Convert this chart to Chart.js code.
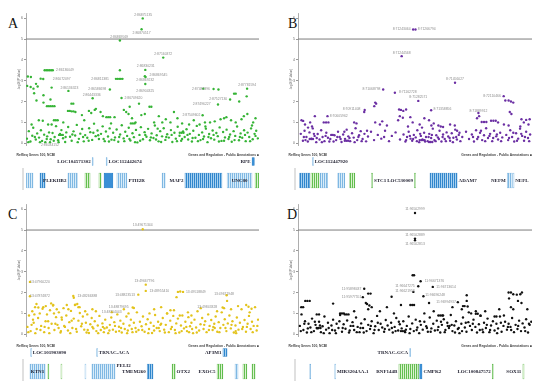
<!DOCTYPE html>
<html><head><meta charset="utf-8">
<script src="https://cdn.jsdelivr.net/npm/chart.js@4.4.1/dist/chart.umd.min.js"></script>
<style>
html,body{margin:0;padding:0;background:#fff;}
body{width:550px;height:389px;position:relative;overflow:hidden;}
canvas{position:absolute;}
.lt{position:absolute;font-family:"Liberation Serif","Times New Roman",serif;font-size:14px;line-height:1;color:#111;}
</style></head><body>
<div class="lt" style="left:8px;top:17px">A</div>
<div class="lt" style="left:288px;top:17px">B</div>
<div class="lt" style="left:8px;top:208px">C</div>
<div class="lt" style="left:287px;top:208px">D</div>
<canvas id="sA" width="249" height="150" style="left:16px;top:0px"></canvas>
<canvas id="gA" width="249" height="44" style="left:16px;top:148px"></canvas>
<canvas id="sB" width="250" height="150" style="left:288px;top:0px"></canvas>
<canvas id="gB" width="250" height="44" style="left:288px;top:148px"></canvas>
<canvas id="sC" width="249" height="150" style="left:16px;top:191px"></canvas>
<canvas id="gC" width="249" height="44" style="left:16px;top:339px"></canvas>
<canvas id="sD" width="250" height="150" style="left:288px;top:191px"></canvas>
<canvas id="gD" width="250" height="44" style="left:288px;top:339px"></canvas>
<script>
// ---------- DATA ----------
const yTicks = [0,1,2,3,4,5,6];
const threshold = 5;
const yTitle = "-log10(P-Value)";
const headerLeft = "RefSeq Genes 100, NCBI";
const headerRight = "Genes and Regulation - Public Annotations \u25A0";

// Panel A (x = relative position 0-100, y = -log10 p)
const peakA = [[50.1,5.99],[49.6,5.47],[40.3,4.93],[58.9,4.11],[51.2,3.52],[51.0,3.22],[51.3,3.18],[51.2,2.84],
[8.0,3.5],[8.7,3.5],[9.4,3.5],[10.1,3.5],[10.8,3.5],[11.5,3.5],[6.3,3.1],[7.4,3.08],[2.1,3.18],[0.8,3.2],
[11,2.67],[18.2,2.51],[36,2.58],[28.6,2.16],[38.6,3.09],[39.3,3.09],[40,3.09],[40.7,3.09],[41.4,3.09],[40.3,3.5],[41,2.17],
[76.1,2.62],[80.5,2.6],[82.6,2.58],[89.3,2.38],[90,2.38],[94.9,2.62],[94.7,2.25],[87.6,2.1],[82.4,1.86],[91.5,2.0],[75.8,1.34],
[0.5,2.75],[2,2.7],[3.2,2.62],[4.3,2.85],[5,2.72],[3.5,2.4],[4.5,2.05],[7.5,2.3],[10.5,2.1],
[7.5,1.95],[9,1.78],[9.8,1.78],[10.6,1.78],[11.4,1.78],[12.2,1.78],[19.5,1.9],[20.3,1.9],[18,1.55],[18.8,1.55],[19.6,1.53],[20.4,1.53],[21.2,1.5],[12,1.1],[12.8,1.1],[13.6,1.1],[5.5,1.1],[7.2,1.08],[9.5,0.9],[11,0.9],
[24,1.35],[25,1.1],[27,1.55],[28,1.45],[29.5,1.6],[30,1.65],[32,1.5],[33,1.3],[34.5,1.25],[35.3,1.25],[36.1,1.25],[38,1.25],[42,1.6],[43,1.5],[44,1.4],[45.5,1.2],[47,1.0],[44.5,1.75],[48.5,1.9],[49.5,1.35],[51,1.4],[53,1.75],[53.8,1.75],[55,1.0],[57,1.3],[58.5,1.0],[60,1.15],[62,1.0],[63.5,1.5],[65,1.2],[67,0.95],[70,0.9],[72,1.1],[74.5,0.9],[77,0.8],[79,1.0],[81,1.05],[83.5,1.15],[85,1.2],[86,1.25],[88,1.1],[90,1.0],[92.5,1.15],[93.5,1.3],[95,1.4],[97.5,1.0],[98.5,1.2],[10.3,0.05]];
const cloudA = [[0.4,0.22],[1.2,0.58],[1.9,0.08],[2.7,0.36],[3.1,0.74],[4.2,0.18],[4.8,0.47],[5.6,0.27],[6.4,0.62],[6.9,0.11],[7.8,0.41],[8.3,0.05],[9.1,0.33],[9.9,0.52],[10.6,0.19],[11.4,0.49],[12.3,0.3],[12.9,0.82],[13.8,0.14],[14.6,0.44],[15.2,0.63],[15.9,0.24],[16.8,0.06],[17.3,0.52],[18.1,0.78],[18.9,0.31],[19.6,0.12],[20.4,0.57],[21.1,0.37],[21.8,0.88],[22.7,0.21],[23.3,0.46],[24.1,0.68],[24.8,0.09],[25.4,0.39],[26.3,0.26],[27.1,0.72],[27.6,0.53],[28.4,0.16],[29.2,0.94],[29.9,0.34],[30.7,0.61],[31.3,0.2],[32.2,0.45],[32.9,0.81],[33.8,0.1],[34.3,0.56],[35.2,0.32],[35.9,0.71],[36.7,0.17],[37.4,0.5],[38.2,0.28],[38.9,0.66],[39.6,0.07],[40.4,0.42],[41.1,0.86],[41.9,0.23],[42.6,0.55],[43.4,0.35],[44.1,0.74],[44.8,0.13],[45.7,0.48],[46.3,0.29],[47.2,0.64],[47.8,0.04],[48.7,0.4],[49.3,0.77],[50.2,0.19],[50.9,0.53],[51.7,0.31],[52.4,0.69],[53.2,0.14],[53.9,0.47],[54.7,0.25],[55.3,0.85],[56.1,0.38],[56.9,0.09],[57.6,0.58],[58.4,0.33],[59.1,0.72],[59.8,0.16],[60.6,0.43],[61.3,0.27],[62.2,0.63],[62.8,0.06],[63.7,0.5],[64.3,0.22],[65.1,0.79],[65.9,0.36],[66.6,0.12],[67.4,0.56],[68.1,0.3],[68.9,0.67],[69.6,0.18],[70.3,0.45],[71.2,0.08],[71.8,0.6],[72.7,0.26],[73.3,0.83],[74.2,0.4],[74.9,0.15],[75.6,0.52],[76.4,0.32],[77.2,0.7],[77.9,0.05],[78.6,0.44],[79.4,0.24],[80.1,0.61],[80.8,0.17],[81.7,0.49],[82.3,0.34],[83.1,0.76],[83.9,0.11],[84.6,0.54],[85.4,0.28],[86.1,0.65],[86.9,0.2],[87.6,0.42],[88.3,0.07],[89.1,0.58],[89.8,0.35],[90.6,0.8],[91.4,0.14],[92.1,0.47],[92.8,0.26],[93.6,0.62],[94.3,0.1],[95.1,0.51],[95.8,0.3],[96.6,0.71],[97.3,0.19],[98.1,0.45],[98.8,0.6],[99.5,0.23],[14.2,0.4],[15,0.4],[15.8,0.4],[45,0.95],[45.8,0.95],[46.6,0.95],[66,0.5],[66.8,0.5],[67.6,0.5],
[1,0.05],[3.8,0.3],[6,0.05],[8.9,0.2],[11.9,0.12],[14,0.05],[17,0.3],[19.9,0.42],[22.2,0.05],[24.5,0.3],[26.9,0.12],[28.9,0.5],[31,0.38],[33.3,0.2],[35.6,0.08],[37.9,0.15],[40,0.3],[42.2,0.1],[44.4,0.2],[46.8,0.05],[49,0.12],[51.2,0.4],[53.6,0.28],[55.8,0.18],[58,0.06],[60.2,0.3],[62.5,0.4],[64.8,0.1],[67,0.2],[69.3,0.4],[71.5,0.25],[73.8,0.1],[76,0.2],[78.3,0.3],[80.5,0.4],[82.8,0.08],[85,0.12],[87.2,0.3],[89.5,0.15],[91.8,0.3],[94,0.4],[96.2,0.1],[98.5,0.35],[2.4,0.9],[16,1.0],[36.5,0.95],[56.5,0.7],[76.8,1.0],[97,0.85]];
const labelsA = [["2:86875135",50.3,6.14],["2:86870517",49.6,5.31],["2:86869569",40.0,5.1],["2:87160372",58.9,4.3],["2:86830231",51.4,3.71],["2:86869545",56.8,3.28],["2:86869232",51.2,3.02],["2:86904325",51.2,2.5],["2:86136049",16.7,3.5],["2:86072097",15.3,3.07],["2:86136323",18.6,2.67],["2:86586698",30.6,2.58],["2:86443336",28.2,2.32],["2:86811381",31.8,3.09],["2:86709620",46.1,2.17],["2:87482396",75.1,2.62],["2:87781594",94.9,2.8],["2:87527130",82.5,2.1],["2:87496227",75.4,1.86],["2:87509602",71.0,1.36],["2:86034152",10.3,-0.1]];
// genes: [name, start, end, row, kind, labelSide]
const genesA = [["LOC104571302",28.4,28.8,"top","l","L"],["LOC112442674",34.4,34.8,"top","l","R"],["RPE",97,98,"top","B","L"],
["",0.2,3.0,"main","l",""],["",6,8.2,"main","b",""],["PLEKHB2",18,22,"main","l","L"],["",25.3,27.5,"main","g",""],["",31.3,32.2,"main","g",""],["",33.5,37.3,"main","B",""],["PTH2R",39,43.3,"main","l","R"],["",58.4,59.7,"main","l",""],["MAP2",68.2,84.1,"main","b","L"],["UNC80",86.3,97,"main","l","C"],["",98.3,100,"main","g",""]];

// Panel B
const peakB = [[49.2,5.46],[50.2,5.46],[44.3,4.18],[67.1,2.9],[36.4,2.58],[41.4,2.42],[51.4,2.03],[33,1.95],[33.4,1.9],[32.6,1.78],[87.9,2.26],[88.6,2.05],[90,2.05],[91,2.0],[92,1.95],[28.5,1.6],[28.3,1.5],[56.9,1.58],[77.1,1.45],[77.4,1.3],[12.6,1.3],[43.2,1.62],[44,1.6],[45,1.55],[46.2,1.62],[43.5,1.3],[44.8,1.22],[42.8,1.1],[7.2,1.3],[90.5,1.5],[91.2,1.4],[1.5,1.1],[2.2,1.07],[3,0.9],[4.3,0.75],[5.2,1.0],[6,0.8],[11,1.0],[12,1.0],[13,1.0],[24,1.0],[25,0.95],[33,1.0],[35,0.9],[36,1.05],[38,0.85],[48,1.25],[49,1.0],[52,0.9],[54,1.2],[56,1.1],[58,0.95],[60,0.85],[61,0.8],[62,0.78],[65,0.9],[67,0.85],[68,0.6],[76.5,1.2],[78.5,1.02],[79.5,1.02],[80.5,1.02],[82.5,1.08],[83.5,1.08],[84.5,1.08],[85.5,1.0],[88,0.9],[90,0.85],[95.5,1.15],[96.5,1.0],[97.5,1.12],[98.5,0.9],[99,1.15],[95,0.8]];
const cloudB = [[1.2,0.45],[2.1,0.12],[2.8,0.6],[3.6,0.3],[4.2,0.08],[4.9,0.52],[5.7,0.22],[6.3,0.71],[7.1,0.35],[7.8,0.05],[8.4,0.44],[9.2,0.18],[9.9,0.62],[10.5,0.3],[11.3,0.1],[12.1,0.5],[12.8,0.26],[13.4,0.08],[14.2,0.4],[14.9,0.4],[15.6,0.38],[16.3,0.15],[17.1,0.55],[17.8,0.3],[18.6,0.06],[19.3,0.42],[20.1,0.21],[20.8,0.65],[21.5,0.33],[22.3,0.1],[23.1,0.48],[23.8,0.27],[24.6,0.72],[25.3,0.15],[26.1,0.38],[26.8,0.58],[27.6,0.2],[28.4,0.45],[29.1,0.09],[29.9,0.32],[31.2,0.55],[32.5,0.15],[34.1,0.4],[35.6,0.22],[37.2,0.6],[38.9,0.1],[40.1,0.35],[41.7,0.52],[43.6,0.18],[45.1,0.42],[45.9,0.08],[46.6,0.3],[47.3,0.55],[48.1,0.22],[48.8,0.12],[49.5,0.4],[50.3,0.28],[51,0.62],[51.8,0.05],[52.5,0.35],[53.2,0.18],[53.9,0.5],[54.7,0.3],[55.4,0.1],[56.1,0.45],[56.9,0.25],[57.6,0.7],[58.3,0.15],[59.1,0.38],[59.8,0.28],[60.5,0.6],[61.3,0.08],[62,0.42],[62.7,0.2],[63.5,0.52],[64.2,0.32],[65,0.12],[65.7,0.48],[66.4,0.26],[67.2,0.65],[67.9,0.18],[68.7,0.4],[69.4,0.1],[70.2,0.3],[71.8,0.55],[73.1,0.2],[74.3,0.42],[75.2,0.08],[76.1,0.62],[77,0.3],[77.8,0.5],[78.7,0.15],[79.5,0.38],[80.4,0.72],[81.2,0.25],[82.1,0.45],[83,0.1],[83.8,0.6],[84.7,0.33],[85.5,0.18],[86.4,0.5],[87.3,0.28],[89,0.4],[89.8,0.15],[90.7,0.62],[91.5,0.3],[92.4,0.08],[93.2,0.48],[94.1,0.22],[94.9,0.7],[95.8,0.35],[96.6,0.12],[97.5,0.55],[98.3,0.25],[99.2,0.42],[52,0.15],[52.7,0.15],[53.4,0.15],[54.1,0.15],[56,0.06],[56.7,0.06],[57.4,0.06],[5,0.2],[5.7,0.2],[6.4,0.2],[20,0.12],[20.7,0.12],[21.4,0.12],
[2.5,0.3],[3.2,0.15],[6.8,0.45],[8,0.25],[10.2,0.05],[11.8,0.35],[13.8,0.2],[15.2,0.08],[16.8,0.3],[18.2,0.2],[19.8,0.55],[22,0.25],[24.2,0.05],[25.8,0.3],[27.2,0.1],[29.5,0.6],[46.2,0.15],[47.8,0.35],[49.2,0.2],[50.8,0.1],[52.2,0.45],[54.3,0.08],[55.8,0.3],[57.2,0.4],[58.8,0.1],[60.2,0.2],[61.8,0.3],[63.2,0.1],[64.8,0.25],[66.2,0.05],[67.6,0.3],[69,0.5],[74.8,0.3],[76.6,0.2],[78.2,0.6],[80,0.1],[81.8,0.35],[83.4,0.25],[85,0.42],[86.8,0.1],[90.2,0.25],[92,0.5],[93.6,0.12],[95.4,0.45],[97,0.3],[98.8,0.1],[53,0.75],[57,0.85],[47,0.8],[36.8,0.3]];
const labelsB = [["8:71243064",44.3,5.46],["8:71266794",55.0,5.46],["8:71244568",44.3,4.35],["8:71456027",67.1,3.07],["8:71068798",31.4,2.58],["8:71162728",46.9,2.45],["8:71282571",51.4,2.21],["8:72110466",82.9,2.26],["8:70911408",22.9,1.65],["8:71358856",61.7,1.62],["8:71889912",77.1,1.55],["8:70605962",17.4,1.3]];
const genesB = [["LOC112447920",6.2,6.5,"top","l","R"],
["",0.7,5,"main","b",""],["",5.5,9,"main","g",""],["",9.5,12.7,"main","l",""],["",17,20,"main","l",""],["",22.1,24.3,"main","g",""],["STC1",31.4,31.8,"main","g","R"],["LOC530009",49.8,50.2,"main","g","L"],["",56.4,63.7,"main","b",""],["ADAM7",64.1,68,"main","b","R"],["NEFM",89.4,91.6,"main","l","L"],["NEFL",91.9,92.2,"main","l","R"]];

// Panel C
const peakC = [[50.1,5.04],[51.4,2.38],[1.7,2.51],[1.7,1.82],[20.3,1.84],[20.5,1.75],[48.2,1.9],[51.4,2.08],[65.2,2.03],[66.2,2.05],[67.4,2.03],[64.6,1.78],[86.1,1.87],[86.3,1.6],[45.8,1.28],[46.3,1.26],[36.8,1.06],[84.4,1.28],[85,1.25],[94.5,1.4],[95.5,1.32],[96.8,1.22],[60.5,1.0],[63.5,1.15],[66,0.9],[4.5,1.45],[8.5,1.35],[10.8,1.48],[13.2,1.2],[17.5,1.4],[22,1.45],[23,1.3],[28.5,1.2],[30,1.1],[42,1.2],[44,1.0],[55,1.2],[58,1.3],[62,1.15],[69.5,1.05],[75,1.25],[82,1.1],[88,1.2],[91,1.35],[96,1.05],[5.3,1.28],[7.4,1.3],[11.7,1.4],[15.3,0.8],[18.2,1.2],[21,1.4],[22.5,1.3]];
const cloudC = [[0.6,0.35],[1.3,0.9],[2,0.15],[2.7,1.1],[3.3,0.55],[3.9,1.3],[4.6,0.25],[5.2,0.78],[5.9,1.0],[6.5,0.4],[7.1,1.22],[7.8,0.1],[8.4,0.62],[9,0.95],[9.7,0.3],[10.3,1.15],[11,0.5],[11.6,1.38],[12.2,0.2],[12.9,0.82],[13.5,0.45],[14.1,1.05],[14.8,0.08],[15.4,0.7],[16.1,1.25],[16.7,0.35],[17.3,0.9],[18,0.18],[18.6,0.58],[19.3,1.12],[19.9,0.3],[20.5,0.75],[21.2,1.42],[21.8,0.12],[22.5,0.65],[23.1,1.02],[23.7,0.38],[24.4,0.85],[25,0.22],[25.7,0.55],[26.3,0.95],[27,0.06],[27.6,0.48],[28.2,0.78],[28.9,0.28],[29.5,0.62],[30.2,0.15],[30.8,0.42],[31.5,0.88],[32.1,0.2],[32.8,0.52],[33.4,0.1],[34,0.7],[34.7,0.32],[35.3,0.05],[36,0.45],[36.6,0.8],[37.3,0.22],[37.9,0.58],[38.6,0.12],[39.2,0.95],[39.9,0.36],[40.5,0.65],[41.1,0.08],[41.8,0.5],[42.4,0.25],[43.1,0.85],[43.7,0.18],[44.4,0.42],[45,0.7],[45.7,0.1],[46.3,0.55],[47,0.3],[47.6,1.05],[48.3,0.2],[48.9,0.6],[49.6,0.38],[50.2,0.85],[50.9,0.12],[51.5,0.48],[52.2,0.72],[52.8,0.25],[53.5,0.55],[54.1,0.06],[54.8,0.4],[55.4,0.92],[56.1,0.3],[56.7,0.6],[57.4,0.15],[58,0.5],[58.7,0.78],[59.3,0.22],[60,0.45],[60.6,1.0],[61.3,0.1],[61.9,0.65],[62.6,0.35],[63.2,0.88],[63.9,0.2],[64.5,0.52],[65.2,0.75],[65.8,0.08],[66.5,0.42],[67.1,0.9],[67.8,0.28],[68.4,0.6],[69.1,0.15],[69.7,0.82],[70.4,0.38],[71,0.55],[71.7,0.05],[72.3,0.7],[73,0.32],[73.6,1.1],[74.3,0.18],[74.9,0.48],[75.6,0.78],[76.2,0.25],[76.9,0.62],[77.5,0.1],[78.2,0.95],[78.8,0.4],[79.5,0.68],[80.1,0.2],[80.8,0.5],[81.4,0.85],[82.1,0.12],[82.7,0.58],[83.4,0.3],[84,1.05],[84.7,0.45],[85.3,0.72],[86,0.15],[86.6,0.52],[87.3,0.9],[87.9,0.28],[88.6,0.62],[89.2,0.08],[89.9,0.42],[90.5,0.8],[91.2,0.22],[91.8,0.55],[92.5,1.2],[93.1,0.35],[93.8,0.68],[94.4,0.12],[95.1,0.5],[95.7,0.88],[96.4,0.25],[97,0.6],[97.7,0.4],[98.3,1.3],[99,0.18],[99.6,0.7],[3,0.7],[9.5,0.62],[14,0.3],[26.5,0.2],[33,0.35],[40,0.15],[57,0.3],[70,0.1],[81,0.3],[90,0.15],
[1,0.1],[2.4,0.45],[4,0.05],[6.2,0.2],[8,0.35],[10,0.05],[12.6,0.5],[15,0.15],[16.4,0.4],[19,0.05],[21.5,0.25],[24,0.5],[26,0.08],[28.5,0.35],[31,0.05],[33.7,0.28],[35.8,0.18],[38.2,0.4],[40.8,0.3],[43.4,0.05],[45.4,0.25],[47.3,0.12],[49.9,0.2],[52.5,0.05],[55,0.18],[57.7,0.45],[59.6,0.08],[62.2,0.25],[64.2,0.05],[66.8,0.15],[68.8,0.35],[71.3,0.25],[73.3,0.08],[76.5,0.45],[78.5,0.2],[80.4,0.35],[83,0.1],[85.6,0.3],[88.2,0.45],[90.2,0.05],[92.8,0.25],[94.8,0.35],[97.3,0.1],[99.3,0.4],[3.6,0.95],[12,1.0],[19.6,0.65],[25.4,1.1],[53,1.0],[71,0.9]];
const labelsC = [["13:49671344",50.1,5.23],["13:49667796",50.8,2.56],["13:47960220",6.0,2.51],["13:47874872",6.0,1.82],["13:48266388",26.3,1.82],["13:48823513",42.5,1.9],["13:48955410",57.2,2.08],["13:49518849",72.9,2.03],["13:49671948",85.0,1.95],["13:48879695",39.8,1.28],["13:48754043",36.8,1.06],["13:49843328",77.8,1.28]];
const genesC = [["LOC101903090",2,2.3,"top","l","R"],["TRNAC-ACA",30.3,30.6,"top","l","R"],["AP3M1",84.5,86.3,"top","b","L"],
["KTN1",1.7,8.2,"main","l","C"],["",9.4,9.7,"main","g",""],["",15,15.3,"main","g",""],["",25.3,25.6,"main","l",""],["PELI2",28.3,38.2,"main","l","RU"],["TMEM260",52,54.5,"main","b","L"],["OTX2",62.7,64,"main","g","R"],["EXOC5",82,84.5,"main","g","L"],["",89.7,91,"main","l",""],["",93.1,94.8,"main","g",""],["",97,98.3,"main","g",""]];

// Panel D
const peakD = [[50,5.82],[50,4.59],[50,4.51],[49,2.83],[49.6,2.83],[52.4,2.54],[51.4,2.3],[57.6,2.27],[28.3,2.18],[49.3,2.03],[27.7,1.78],[53.6,1.82],[68.3,1.54],[40,1.8],[3.1,1.6],[4,1.6],[5,1.6],[15,1.47],[29,1.5],[30,1.95],[31,1.95],[29.5,1.45],[30.5,1.38],[31.5,1.3],[48,1.4],[48.8,1.4],[49.6,1.4],[72.1,1.87],[72.1,1.6],[90,2.0],[91,2.0],[92,1.92],[93.5,1.9],[95,1.92],[95.7,2.0],[90.2,1.72],[91,1.3],[92,1.2],[94,1.6],[95.5,1.5],[1.4,1.3],[2.2,1.3],[8,0.95],[9,0.95],[24,1.1],[30,1.2],[35,1.1],[38,1.3],[41,1.0],[44,1.4],[54,1.0],[56,1.5],[58,1.1],[62,0.9],[66,1.3],[70,1.2],[72.5,1.33],[74,1.0],[76,1.1],[78,0.9],[80,1.1],[86,1.2],[88,0.9],[98,1.2],[18,1.0],[18.8,1.0],[19.6,1.0],[70.5,1.35],[71.2,1.35],[73,1.05]];
const cloudD = [[0.8,0.4],[1.5,0.95],[2.3,0.2],[3,0.62],[3.8,0.08],[4.5,0.5],[5.3,0.32],[6,0.75],[6.8,0.15],[7.5,0.45],[8.3,0.28],[9,0.6],[9.8,0.1],[10.5,0.38],[11.3,0.85],[12,0.22],[12.8,0.55],[13.5,0.05],[14.3,0.42],[15,0.7],[15.8,0.18],[16.5,0.5],[17.3,0.3],[18,0.92],[18.8,0.12],[19.5,0.48],[20.3,0.26],[21,0.66],[21.8,0.08],[22.5,0.4],[23.3,0.58],[24,0.2],[24.8,0.8],[25.5,0.35],[26.3,0.1],[27,0.52],[27.8,0.3],[28.5,0.72],[29.3,0.15],[30,0.45],[30.8,0.25],[31.5,0.62],[32.3,0.05],[33,0.38],[33.8,0.88],[34.5,0.2],[35.3,0.5],[36,0.32],[36.8,0.12],[37.5,0.68],[38.3,0.42],[39,0.22],[39.8,0.55],[40.5,0.08],[41.3,0.35],[42,0.78],[42.8,0.18],[43.5,0.48],[44.3,0.28],[45,0.62],[45.8,0.1],[46.5,0.4],[47.3,0.85],[48,0.25],[48.8,0.52],[49.5,0.15],[50.3,0.7],[51,0.32],[51.8,0.05],[52.5,0.45],[53.3,0.22],[54,0.6],[54.8,0.38],[55.5,0.12],[56.3,0.8],[57,0.28],[57.8,0.5],[58.5,0.18],[59.3,0.65],[60,0.35],[60.8,0.08],[61.5,0.45],[62.3,0.72],[63,0.2],[63.8,0.55],[64.5,0.3],[65.3,0.92],[66,0.15],[66.8,0.42],[67.5,0.62],[68.3,0.25],[69,0.05],[69.8,0.5],[70.5,0.8],[71.3,0.32],[72,0.12],[72.8,0.58],[73.5,0.4],[74.3,0.2],[75,0.7],[75.8,0.35],[76.5,0.08],[77.3,0.48],[78,0.88],[78.8,0.22],[79.5,0.55],[80.3,0.3],[81,0.75],[81.8,0.1],[82.5,0.42],[83.3,0.62],[84,0.18],[84.8,0.5],[85.5,0.28],[86.3,0.85],[87,0.12],[87.8,0.4],[88.5,0.6],[89.3,0.22],[90,0.5],[90.8,0.35],[91.5,0.78],[92.3,0.1],[93,0.45],[93.8,0.25],[94.5,0.65],[95.3,0.15],[96,0.52],[96.8,0.32],[97.5,0.72],[98.3,0.08],[99,0.45],[99.7,0.6],[20,0.95],[20.8,0.95],[21.6,0.95],[60,0.9],[60.8,0.9],[61.6,0.9],[76,0.98],[76.8,0.98],[8,0.3],[8.8,0.3],[9.6,0.3],[44,0.15],[44.8,0.15],[45.6,0.15],[64,0.4],[64.8,0.4],[84,0.85],[84.8,0.85],
[1.2,0.15],[2.7,0.5],[4.2,0.28],[5.7,0.1],[7.2,0.6],[9.4,0.42],[11,0.05],[13.1,0.3],[14.6,0.2],[16.2,0.05],[17.7,0.62],[19.1,0.3],[22.1,0.18],[23.6,0.4],[25.1,0.1],[26.7,0.3],[28.1,0.08],[31.1,0.4],[32.7,0.2],[34.1,0.55],[37.1,0.25],[40.1,0.3],[41.7,0.15],[43.1,0.6],[46.1,0.22],[47.7,0.05],[50.7,0.2],[52.1,0.62],[55.1,0.3],[56.7,0.12],[59.7,0.2],[61.1,0.6],[62.7,0.1],[65.7,0.45],[67.1,0.08],[68.7,0.3],[70.1,0.15],[71.7,0.55],[74.7,0.5],[77.7,0.2],[79.1,0.1],[80.7,0.45],[82.1,0.2],[85.1,0.05],[86.7,0.55],[89.7,0.35],[91.1,0.2],[94.1,0.4],[97.1,0.15],[98.7,0.5]];
const labelsD = [["11:96502999",50,6.0],["11:96502889",50,4.78],["11:96502813",50,4.32],["11:96671376",58.3,2.54],["11:96647275",45.7,2.3],["11:96713614",63.3,2.27],["11:95898437",22.9,2.18],["11:96621953",45.7,2.06],["11:95977551",22.9,1.76],["11:96696248",58.6,1.86],["11:96994937",63.3,1.54]];
const genesD = [["TRNAC-GCA",47.7,48,"top","l","L"],
["",5,5.4,"main","l",""],["MIR3204AA-1",15.7,16,"main","l","R"],["RNF144B",43.1,50.8,"main","g","L"],["",51.2,51.6,"main","g",""],["CMPK2",52,53,"main","B","R"],["LOC100847572",83,83.3,"main","g","L"],["SOX11",96.1,96.6,"main","g","L"]];

// ---------- STYLE / RENDER ----------
function stripes(base, line, step){
  const c=document.createElement('canvas'); c.width=step; c.height=4;
  const x=c.getContext('2d'); x.fillStyle=base; x.fillRect(0,0,step,4); x.fillStyle=line; x.fillRect(0,0,1,4);
  return x.createPattern(c,'repeat');
}
const fills={l:stripes('#d9ecf9','#7fb8e3',2), b:stripes('#a7d0f0','#2f86cc',2), B:'#3a8fd6', g:stripes('#dcf2d0','#63bf50',2)};
const edges={l:'#6aa9da', b:'#2b7cc0', B:'#2b7cc0', g:'#4fae3c'};

function snpLabelPlugin(items){
  return {id:'snpLabels', afterDatasetsDraw(chart){
    const c=chart.ctx, xs=chart.scales.x, ys=chart.scales.y;
    c.save(); c.font='3.4px "Liberation Sans", Arial, sans-serif'; c.fillStyle='#8c8c8c';
    c.textAlign='center'; c.textBaseline='middle';
    for(const l of items){ c.fillText(l[0], xs.getPixelForValue(l[1]), ys.getPixelForValue(l[2])); }
    c.restore();
  }};
}

function scatter(id, pts, labels, color){
  new Chart(document.getElementById(id), {
    type:'scatter',
    data:{datasets:[
      {data:pts.map(p=>({x:p[0],y:p[1]})), backgroundColor:color, borderWidth:0, pointRadius:1.2, pointHoverRadius:1.2},
      {type:'line', data:[{x:0,y:threshold},{x:100,y:threshold}], borderColor:'#7d7d7d', borderWidth:1, pointRadius:0}
    ]},
    options:{responsive:false, animation:false, events:[],
      layout:{padding:{top:13,bottom:4.7,left:0,right:6}},
      plugins:{legend:{display:false}, tooltip:{enabled:false}},
      scales:{
        x:{type:'linear', min:0, max:100, display:false},
        y:{type:'linear', min:-0.1, max:6.25,
           afterFit:s=>{s.width=10;},
           afterBuildTicks:s=>{s.ticks=yTicks.map(v=>({value:v}));},
           ticks:{font:{size:3.5,family:'Liberation Sans'}, color:'#666', padding:1, callback:v=>String(v)},
           grid:{display:true, drawOnChartArea:false, drawTicks:true, tickLength:2, color:'#999'},
           border:{display:true, color:'#999', width:0.8},
           title:{display:true, text:yTitle, font:{size:3,family:'Liberation Sans'}, color:'#666', padding:{top:1,bottom:0}}
        }
      }
    },
    plugins:[snpLabelPlugin(labels)]
  });
}

function geneTextPlugin(genes){
  return {id:'geneText', afterDatasetsDraw(chart){
    const c=chart.ctx, xs=chart.scales.x, ys=chart.scales.y, a=chart.chartArea;
    c.save();
    c.font='bold 3.3px "Liberation Sans", Arial, sans-serif'; c.fillStyle='#444'; c.textBaseline='middle';
    c.textAlign='left'; c.fillText(headerLeft, a.left-9.5, a.top+3);
    c.textAlign='right'; c.fillText(headerRight, a.right, a.top+3);
    c.strokeStyle='#999'; c.lineWidth=0.6; c.beginPath(); c.moveTo(a.left-3, a.top+16); c.lineTo(a.left-3, a.bottom); c.stroke();
    c.font='bold 5px "Liberation Serif", "Times New Roman", serif'; c.fillStyle='#1e1e2e';
    for(const g of genes){
      if(!g[0]) continue;
      const x0=xs.getPixelForValue(g[1]), x1=xs.getPixelForValue(g[2]);
      let y=ys.getPixelForValue(ys.getLabels().indexOf(g[3]));
      if(g[5]==='RU'){c.textAlign='left'; c.fillText(g[0], x1+1.5, y-6);}
      else if(g[5]==='L'){c.textAlign='right'; c.fillText(g[0], x0-1.5, y);}
      else if(g[5]==='R'){c.textAlign='left'; c.fillText(g[0], x1+1.5, y);}
      else {c.textAlign='center'; c.fillText(g[0], (x0+x1)/2, y);}
    }
    c.restore();
  }};
}

function geneTrack(id, genes){
  const rows=['top','main'];
  const mk=(row,thick)=>({
    data:genes.filter(g=>g[3]===row).map(g=>({x:[g[1],g[2]], y:row, k:g[4]})),
    barThickness:thick, grouped:false, minBarLength:1, borderSkipped:false,
    backgroundColor:c=>fills[c.raw&&c.raw.k]||'#ccc',
    borderColor:c=>edges[c.raw&&c.raw.k]||'#999', borderWidth:0.5
  });
  new Chart(document.getElementById(id), {
    type:'bar',
    data:{labels:rows, datasets:[mk('top',8), mk('main',15)]},
    options:{indexAxis:'y', responsive:false, animation:false, events:[],
      layout:{padding:{top:4,bottom:2,left:0,right:6}},
      plugins:{legend:{display:false}, tooltip:{enabled:false}},
      scales:{
        x:{type:'linear', min:0, max:100, display:false},
        y:{type:'category', labels:rows, afterFit:s=>{s.width=10;}, ticks:{display:false}, grid:{display:false}, border:{display:false}}
      }
    },
    plugins:[geneTextPlugin(genes)]
  });
}

scatter('sA', peakA.concat(cloudA), labelsA, '#36b436');
scatter('sB', peakB.concat(cloudB), labelsB, '#6b2fa3');
scatter('sC', peakC.concat(cloudC), labelsC, '#e3c31c');
scatter('sD', peakD.concat(cloudD), labelsD, '#111111');
geneTrack('gA', genesA);
geneTrack('gB', genesB);
geneTrack('gC', genesC);
geneTrack('gD', genesD);
</script>
</body></html>
